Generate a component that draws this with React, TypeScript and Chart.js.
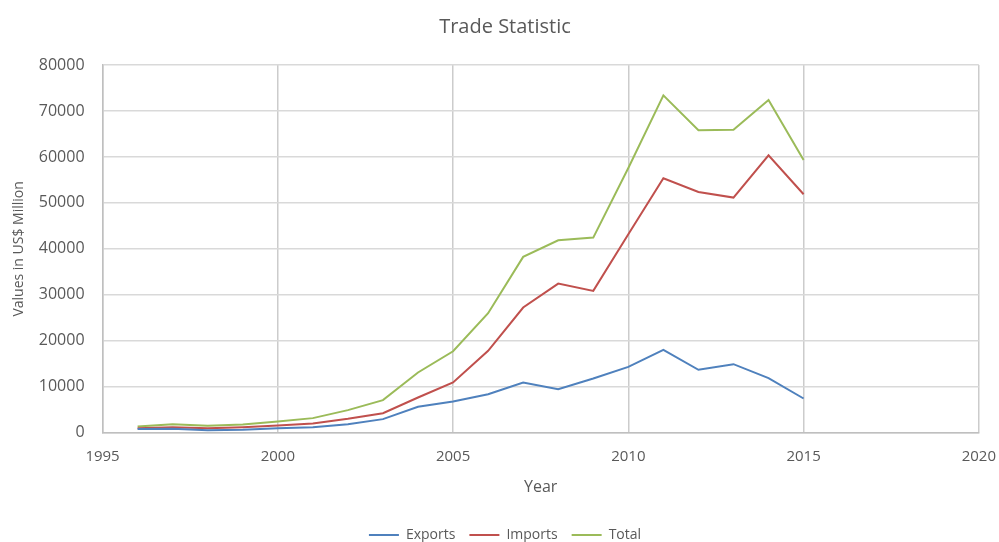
import React, { useEffect, useRef } from "react";
import { Chart, registerables } from "chart.js";

Chart.register(...registerables);

const years = [1996, 1997, 1998, 1999, 2000, 2001, 2002, 2003, 2004, 2005, 2006, 2007, 2008, 2009, 2010, 2011, 2012, 2013, 2014, 2015];
const exportsVals = [800, 870, 580, 650, 1000, 1200, 1880, 2970, 5650, 6800, 8400, 10940, 9490, 11810, 14350, 18040, 13700, 14930, 11880, 7460];
const importsVals = [1010, 1230, 1010, 1230, 1590, 2030, 3040, 4270, 7680, 10940, 17830, 27250, 32460, 30870, 43190, 55360, 52390, 51160, 60370, 51880];
const totalVals = [1370, 1880, 1520, 1810, 2460, 3190, 4930, 7100, 13120, 17740, 26000, 38260, 41880, 42460, 57600, 73400, 65800, 65940, 72400, 59350];

const FONT = "'Open Sans', 'Liberation Sans', sans-serif";
const TXT = "#595959";

export default function App() {
  const ref = useRef<HTMLCanvasElement>(null);
  useEffect(() => {
    if (!ref.current) return;
    const mk = (arr: number[]) => years.map((y, i) => ({ x: y, y: arr[i] }));
    const chart = new Chart(ref.current, {
      type: "line",
      data: {
        datasets: [
          { label: "Exports", data: mk(exportsVals), borderColor: "#4f81bd", backgroundColor: "#4f81bd", borderWidth: 2, pointRadius: 0, tension: 0 },
          { label: "Imports", data: mk(importsVals), borderColor: "#c0504d", backgroundColor: "#c0504d", borderWidth: 2, pointRadius: 0, tension: 0 },
          { label: "Total", data: mk(totalVals), borderColor: "#9bbb59", backgroundColor: "#9bbb59", borderWidth: 2, pointRadius: 0, tension: 0 },
        ],
      },
      options: {
        animation: false,
        responsive: false,
        maintainAspectRatio: false,
        layout: { padding: { left: 11, right: 0, top: 10, bottom: -10 } },
        plugins: {
          title: {
            display: true,
            text: "Trade Statistic",
            color: TXT,
            font: { family: FONT, size: 20, weight: "normal" },
            padding: { top: 5, bottom: 26 },
          },
          legend: {
            position: "bottom",
            labels: {
              usePointStyle: true,
              pointStyle: "line",
              pointStyleWidth: 30,
              color: TXT,
              font: { family: FONT, size: 14 },
              padding: 14,
            },
          },
          tooltip: { enabled: false },
        },
        scales: {
          x: {
            type: "linear",
            min: 1995,
            max: 2020,
            ticks: { stepSize: 5, color: TXT, font: { family: FONT, size: 15, lineHeight: 2.8 }, padding: 3, callback: (v: any) => String(v) },
            grid: { color: "#cccccc", lineWidth: 1.5, drawTicks: false },
            border: { color: "#bfbfbf", width: 1.5 },
            title: { display: true, text: "Year", color: TXT, font: { family: FONT, size: 16 }, padding: { top: -3, bottom: 17 } },
          },
          y: {
            min: 0,
            max: 80000,
            ticks: { stepSize: 10000, color: TXT, font: { family: FONT, size: 16 }, padding: 18, callback: (v: any) => String(v) },
            grid: { color: "#d9d9d9", lineWidth: 1.5, drawTicks: false },
            border: { color: "#bfbfbf", width: 1.5 },
            title: { display: true, text: "Values in US$ Million", color: TXT, font: { family: FONT, size: 14 }, padding: { top: 0, bottom: -7 } },
          },
        },
      },
    });
    return () => chart.destroy();
  }, []);
  return (
    <div style={{ position: "fixed", left: 0, top: 0, width: 999, height: 542, background: "#fff" }}>
      <canvas ref={ref} width={999} height={542} style={{ width: 999, height: 542 }} />
    </div>
  );
}
